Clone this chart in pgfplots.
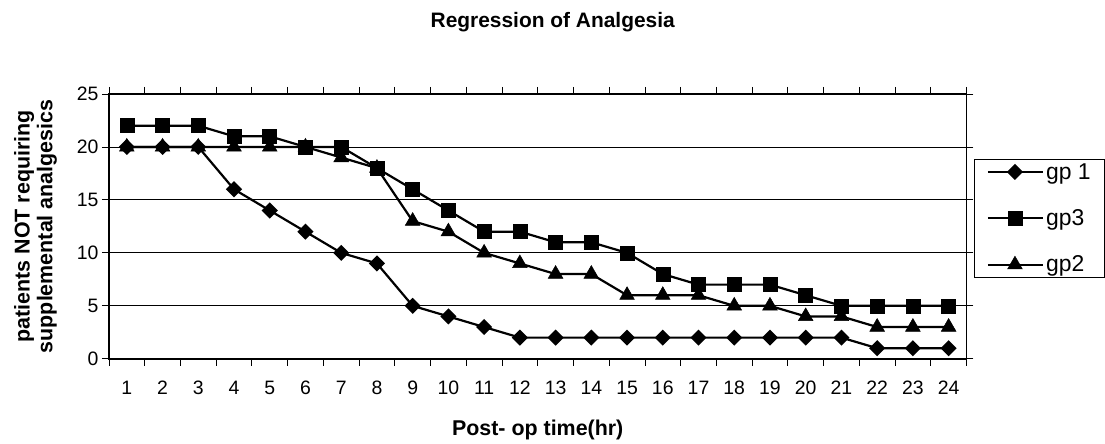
\documentclass[border=0pt]{standalone}
\usepackage{fontspec}
\setmainfont{Liberation Sans}
\usepackage{pgfplots}
\pgfplotsset{compat=1.18}
\begin{document}
\begin{tikzpicture}
\begin{axis}[
  scale only axis,
  width=858bp, height=265bp,
  at={(0,0)}, anchor=south west,
  xmin=0.5, xmax=24.5, ymin=0, ymax=25,
  xtick={1,...,24},
  minor xtick={0.5,1.5,...,24.5},
  ytick={0,5,...,25},
  tick align=outside,
  major tick length=7bp,
  minor tick length=7bp,
  major x tick style={draw=none},
  tick style={black, line width=0.8bp},
  x tick label style={font=\fontsize{19.5}{21}\selectfont, yshift=-12bp},
  y tick label style={font=\fontsize{19.5}{21}\selectfont},
  /pgf/number format/assume math mode=true,
  ymajorgrids,
  grid style={black, line width=0.8bp},
  axis line style={black, line width=2bp},
  title={Regression of Analgesia},
  title style={font=\bfseries\fontsize{21}{23}\selectfont, at={(0.5175,1)}, anchor=base, yshift=61bp},
  xlabel={Post- op time(hr)},
  xlabel style={font=\bfseries\fontsize{21.5}{23}\selectfont, yshift=-18bp},
  ylabel={patients NOT requiring\\supplemental analgesics},
  ylabel style={font=\bfseries\fontsize{21.5}{23}\selectfont, align=center, yshift=13bp},
  legend style={at={(1,0.5)}, xshift=8bp, yshift=8bp, anchor=west, draw=black, line width=0.8bp,
    font=\fontsize{23}{25}\selectfont, row sep=25bp, inner xsep=12bp, inner ysep=2bp},
  legend cell align=left,
  legend image code/.code={\draw[#1, mark repeat=2, mark phase=2] plot coordinates {(0bp,0bp) (27bp,0bp) (55bp,0bp)};},
  every axis plot/.append style={black, line width=2.2bp, mark options={solid, fill=black, line width=0.5bp}},
]
\addplot[mark=square*, mark size=4.6bp, mark options={rotate=45}] coordinates {
(1,20) (2,20) (3,20) (4,16) (5,14) (6,12) (7,10) (8,9) (9,5) (10,4) (11,3) (12,2)
(13,2) (14,2) (15,2) (16,2) (17,2) (18,2) (19,2) (20,2) (21,2) (22,1) (23,1) (24,1)};
\addlegendentry{gp 1}
\addplot[mark=square*, mark size=7bp] coordinates {
(1,22) (2,22) (3,22) (4,21) (5,21) (6,20) (7,20) (8,18) (9,16) (10,14) (11,12) (12,12)
(13,11) (14,11) (15,10) (16,8) (17,7) (18,7) (19,7) (20,6) (21,5) (22,5) (23,5) (24,5)};
\addlegendentry{gp3}
\addplot[mark=triangle*, mark size=8.5bp] coordinates {
(1,20) (2,20) (3,20) (4,20) (5,20) (6,20) (7,19) (8,18) (9,13) (10,12) (11,10) (12,9)
(13,8) (14,8) (15,6) (16,6) (17,6) (18,5) (19,5) (20,4) (21,4) (22,3) (23,3) (24,3)};
\addlegendentry{gp2}
\end{axis}
\path[use as bounding box] (-109bp,-80bp) rectangle (996bp,359bp);
\end{tikzpicture}
\end{document}
